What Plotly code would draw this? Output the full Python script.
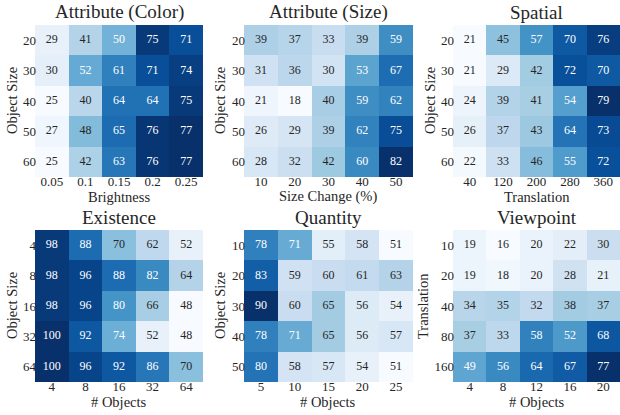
import plotly.graph_objects as go

# ---------------- data ----------------
titles = ["Attribute (Color)", "Attribute (Size)", "Spatial", "Existence", "Quantity", "Viewpoint"]
x_titles = ["Brightness", "Size Change (%)", "Translation", "# Objects", "# Objects", "# Objects"]
y_titles = ["Object Size", "Object Size", "Object Size", "Object Size", "Object Size", "Translation"]

x_labels_color = ["0.05", "0.1", "0.15", "0.2", "0.25"]
x_labels_size = ["10", "20", "30", "40", "50"]
x_labels_spatial = ["40", "120", "200", "280", "360"]
x_labels_existence = ["4", "8", "16", "32", "64"]
x_labels_quantity = ["5", "10", "15", "20", "25"]
x_labels_viewpoint = ["4", "8", "12", "16", "20"]

y_labels_color = ["20", "30", "40", "50", "60"]
y_labels_size = ["20", "30", "40", "50", "60"]
y_labels_spatial = ["20", "30", "40", "50", "60"]
y_labels_existence = ["4", "8", "16", "32", "64"]
y_labels_quantity = ["10", "20", "30", "40", "50"]
y_labels_viewpoint = ["10", "20", "40", "80", "160"]

vals_color = [[29, 41, 50, 75, 71],
              [30, 52, 61, 71, 74],
              [25, 40, 64, 64, 75],
              [27, 48, 65, 76, 77],
              [25, 42, 63, 76, 77]]
vals_size = [[39, 37, 33, 39, 59],
             [31, 36, 30, 53, 67],
             [21, 18, 40, 59, 62],
             [26, 29, 39, 62, 75],
             [28, 32, 42, 60, 82]]
vals_spatial = [[21, 45, 57, 70, 76],
                [21, 29, 42, 72, 70],
                [24, 39, 41, 54, 79],
                [26, 37, 43, 64, 73],
                [22, 33, 46, 55, 72]]
vals_existence = [[98, 88, 70, 62, 52],
                  [98, 96, 88, 82, 64],
                  [98, 96, 80, 66, 48],
                  [100, 92, 74, 52, 48],
                  [100, 96, 92, 86, 70]]
vals_quantity = [[78, 71, 55, 58, 51],
                 [83, 59, 60, 61, 63],
                 [90, 60, 65, 56, 54],
                 [78, 71, 65, 56, 57],
                 [80, 58, 57, 54, 51]]
vals_viewpoint = [[19, 16, 20, 22, 30],
                  [19, 18, 20, 28, 21],
                  [34, 35, 32, 38, 37],
                  [37, 33, 58, 52, 68],
                  [49, 56, 64, 67, 77]]

panels = [
    (vals_color, x_labels_color, y_labels_color),
    (vals_size, x_labels_size, y_labels_size),
    (vals_spatial, x_labels_spatial, y_labels_spatial),
    (vals_existence, x_labels_existence, y_labels_existence),
    (vals_quantity, x_labels_quantity, y_labels_quantity),
    (vals_viewpoint, x_labels_viewpoint, y_labels_viewpoint),
]

# ---------------- style ----------------
W, H = 620, 415
FONT = "Liberation Serif, Times New Roman, serif"
TXT = "#262626"
blues_hex = ["#f7fbff", "#deebf7", "#c6dbef", "#9ecae1", "#6baed6",
             "#4292c6", "#2171b5", "#08519c", "#08306b"]
colorscale = [[i / 8, c] for i, c in enumerate(blues_hex)]


def hex2rgb(h):
    return tuple(int(h[i:i + 2], 16) / 255 for i in (1, 3, 5))


def interp(t):
    t = min(max(t, 0), 1)
    pos = t * 8
    i = min(int(pos), 7)
    f = pos - i
    a, b = hex2rgb(blues_hex[i]), hex2rgb(blues_hex[i + 1])
    return tuple(a[k] + (b[k] - a[k]) * f for k in range(3))


def lum(rgb):
    def lin(c):
        return c / 12.92 if c <= 0.03928 else ((c + 0.055) / 1.055) ** 2.4
    r, g, b = (lin(c) for c in rgb)
    return 0.2126 * r + 0.7152 * g + 0.0722 * b


# pixel geometry (left, right) x and (top, bottom) y
x_px = [(35, 203), (244, 413), (453, 620)]
y_px = [(25, 177), (230, 382)]
ytitle_x = [[12, 220, 430], [12, 220, 423]]

fig = go.Figure()
annotations = []
layout = dict(width=W, height=H, margin=dict(l=0, r=0, t=0, b=0),
              paper_bgcolor="white", plot_bgcolor="white", showlegend=False,
              font=dict(family=FONT, color=TXT))

for idx, (vals, xl, yl) in enumerate(panels):
    r, c = divmod(idx, 3)
    n = idx + 1
    xa = "x" if n == 1 else f"x{n}"
    ya = "y" if n == 1 else f"y{n}"
    flat = [v for row in vals for v in row]
    vmin, vmax = min(flat), max(flat)
    fig.add_trace(go.Heatmap(z=vals, x=xl, y=yl, colorscale=colorscale,
                             zmin=vmin, zmax=vmax, showscale=False,
                             xaxis=xa, yaxis=ya, hoverinfo="skip"))
    tx, ty, tt, tc = [], [], [], []
    for i, row in enumerate(vals):
        for j, v in enumerate(row):
            tx.append(xl[j]); ty.append(yl[i]); tt.append(str(v))
            col = interp((v - vmin) / (vmax - vmin))
            tc.append(TXT if lum(col) > 0.408 else "white")
    fig.add_trace(go.Scatter(x=tx, y=ty, text=tt, mode="text",
                             textfont=dict(family=FONT, size=12, color=tc),
                             xaxis=xa, yaxis=ya, hoverinfo="skip"))
    x0, x1 = x_px[c]
    top, bot = y_px[r]
    dx = [x0 / W, x1 / W]
    dy = [1 - bot / H, 1 - top / H]
    layout["xaxis" if n == 1 else f"xaxis{n}"] = dict(
        domain=dx, anchor=ya, type="category", showgrid=False, zeroline=False,
        range=[-0.5, 4.5], ticks="", showline=False, ticklabelstandoff=-5,
        tickfont=dict(family=FONT, size=13, color=TXT), fixedrange=True)
    layout["yaxis" if n == 1 else f"yaxis{n}"] = dict(
        domain=dy, anchor=xa, type="category", range=[4.5, -0.5], showgrid=False,
        zeroline=False, ticks="", showline=False, ticklabelstandoff=-2,
        tickfont=dict(family=FONT, size=13, color=TXT), fixedrange=True)
    cx = (x0 + x1) / 2 / W
    annotations.append(dict(text=titles[idx], x=cx, y=1 - (top - 13) / H, xref="paper", yref="paper",
                            showarrow=False, xanchor="center", yanchor="middle",
                            font=dict(family=FONT, size=19, color=TXT)))
    annotations.append(dict(text=x_titles[idx], x=cx, y=1 - (bot + 19.5) / H, xref="paper", yref="paper",
                            showarrow=False, xanchor="center", yanchor="middle",
                            font=dict(family=FONT, size=14.5, color=TXT)))
    annotations.append(dict(text=y_titles[idx], x=ytitle_x[r][c] / W, y=1 - (top + bot) / 2 / H,
                            xref="paper", yref="paper", textangle=-90,
                            showarrow=False, xanchor="center", yanchor="middle",
                            font=dict(family=FONT, size=14.5, color=TXT)))

layout["annotations"] = annotations
fig.update_layout(**layout)
fig.write_html("out.html", config={"displayModeBar": False},
               post_script="document.body.style.margin='0';document.body.style.overflow='hidden';")
